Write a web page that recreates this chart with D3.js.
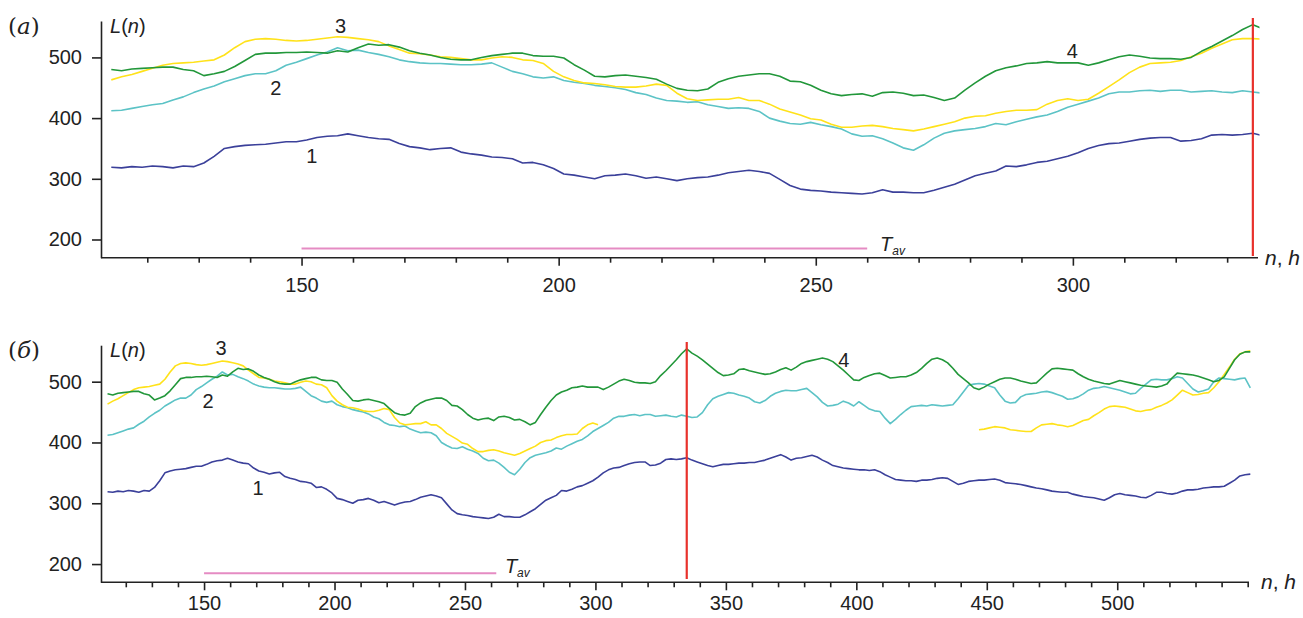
<!DOCTYPE html>
<html><head><meta charset="utf-8">
<script src="https://cdnjs.cloudflare.com/ajax/libs/d3/7.8.5/d3.min.js"></script>
<style>
body{margin:0;background:#fff;}
svg{display:block;font-family:"Liberation Sans",Arial,sans-serif;}
</style>
</head><body>
<svg id="chart" width="1303" height="618"></svg>
<script>
// ---------- DATA ----------
// samples at n = 113, 115, ..., 551 (hours)
const nStart = 113, nStep = 2;
const seriesNames = ["1", "2", "3", "4"];
const series1 = [
 319,318,320,319,321,320,318,321,320,326,
 337,350,353,355,356,357,359,361,361,364,
 368,370,371,374,371,368,366,365,358,353,
 351,348,350,351,344,341,339,336,335,333,
 326,327,323,317,308,306,303,300,305,306,
 308,305,301,303,300,297,300,302,303,306,
 310,312,314,312,309,299,289,283,281,280,
 278,277,276,275,277,282,278,278,277,277,
 281,286,291,298,305,309,313,321,320,323,
 327,329,333,337,343,350,355,358,359,362,
 365,367,368,368,362,363,366,372,373,372,
 373,375,371,368,365,362,360,362,364,364,
 365,366,366,367,367,369,371,374,377,380,
 376,371,374,375,377,379,376,371,367,362,
 360,358,357,356,355,355,354,355,352,347,
 343,339,338,337,337,336,338,338,339,341,
 342,341,336,331,333,336,337,338,338,339,
 340,338,334,333,332,331,329,327,325,324,
 322,320,319,318,318,315,313,311,310,309,
 307,305,309,314,316,314,313,312,310,309,
 313,318,318,316,315,317,320,322,322,323,
 325,326,327,327,328,333,338,345,347,348
];
const series2 = [
 412,413,416,419,422,424,430,435,442,448,
 453,460,465,470,473,473,478,487,492,498,
 504,509,516,511,512,508,505,501,496,493,
 491,490,490,489,488,488,489,491,484,477,
 473,468,466,468,462,459,457,454,452,450,
 447,442,439,433,429,428,426,427,422,419,
 416,417,416,411,400,395,391,390,393,389,
 386,382,374,370,371,366,359,351,347,356,
 367,375,379,381,383,386,391,389,394,398,
 402,405,411,418,423,428,433,440,443,443,
 445,446,444,446,446,443,444,445,443,442,
 445,443,441,442,449,462,472,476,479,482,
 481,478,476,473,467,465,469,476,481,484,
 486,485,485,487,489,482,475,466,460,461,
 463,468,465,460,467,461,455,452,451,440,
 431,438,446,453,459,460,461,460,462,461,
 460,461,462,472,483,494,496,497,496,493,
 490,478,468,465,466,475,479,480,481,483,
 484,482,479,476,471,472,475,480,486,489,
 490,492,490,488,486,483,480,481,489,496,
 503,504,503,503,505,508,506,497,488,483,
 485,488,500,506,505,504,503,505,506,490
];
// series 3, panel (a): n = 113 ... 337
const series3 = [
 463,468,472,477,482,487,490,491,492,494,
 496,504,516,526,530,531,530,528,527,528,
 530,532,534,533,531,529,526,519,513,507,
 506,504,501,500,498,496,496,499,501,500,
 496,495,490,477,468,462,458,457,455,452,
 451,451,453,456,454,441,432,429,430,431,
 431,434,429,429,423,415,410,405,399,397,
 390,385,385,387,388,386,383,381,379,382,
 386,390,394,400,403,404,408,411,413,413,
 414,423,429,432,429,431,441,452,463,475,
 484,490,491,492,495,501,507,515,522,529,
 531,531,530
];
// series 3, panel (б): early part ends at n = 301, late part n = 447 ... 551
const series3CutN = 301;
const series3LateStart = 447;
const series3Late = [
 421,422,424,426,425,424,421,420,419,418,
 418,424,429,430,431,429,428,426,428,432,
 436,438,444,449,455,459,460,459,458,455,
 452,451,453,454,458,461,465,470,478,486,
 482,478,479,481,482,490,500,512,524,537,
 546,549,551
];
const series4 = [
 480,478,481,482,483,484,484,480,478,470,
 473,477,485,495,505,507,507,508,508,509,
 508,507,511,509,516,522,520,521,517,511,
 507,504,500,497,496,496,500,503,505,507,
 507,503,502,502,499,488,479,469,468,470,
 471,469,467,464,456,449,446,445,448,459,
 465,469,471,473,473,469,461,460,454,446,
 440,437,439,440,436,442,443,441,437,438,
 434,429,433,446,458,469,478,483,486,490,
 491,493,491,491,491,487,491,496,501,504,
 502,499,498,498,497,500,510,518,527,536,
 546,554,547,542,536,529,522,515,510,511,
 513,520,521,518,516,514,512,513,516,520,
 523,519,524,530,533,535,537,539,537,533,
 526,519,511,503,502,507,510,513,514,510,
 506,507,508,508,511,515,522,530,537,539,
 536,531,522,512,505,498,490,487,491,496,
 500,504,506,506,504,501,499,497,498,506,
 514,521,522,521,520,519,513,508,504,501,
 499,497,496,499,502,500,498,496,494,493,
 492,491,493,496,506,514,513,512,511,509,
 506,503,500,502,508,522,536,545,549,549
];
const yTickValues = [200, 300, 400, 500];
const xLabelsA = [150, 200, 250, 300];
const xLabelsB = [150, 200, 250, 300, 350, 400, 450, 500];
const tavRangeA = [150, 260], tavRangeB = [150, 262], tavLevel = 185;
const redLineA = 335, redLineB = 335;

// ---------- BUILD ----------
const toPts = (arr, start) => arr.map((v, i) => ({n: start + i * nStep, v}));
const s1 = toPts(series1, nStart), s2 = toPts(series2, nStart),
      s3 = toPts(series3, nStart), s4 = toPts(series4, nStart);
const s3Late = toPts(series3Late, series3LateStart);
const s3b = s3.filter(d => d.n <= series3CutN).concat([{n: series3CutN + 1, v: null}], s3Late);

const colors = {"1": "#3b409a", "2": "#5cc3c6", "3": "#ffe21a", "4": "#22973a"};
const svg = d3.select("#chart");
const ink = "#222";

const panels = [
  {id: "a", tag: "a", xDomain: [111, 336], xRange: [101, 1258], yRange: [257.7, 21],
   xTicks: d3.range(120, 331, 10), xLabels: xLabelsA, nMax: 337, labelY: 20,
   data: {"1": s1, "2": s2, "3": s3, "4": s4},
   red: redLineA, redY: [18, 256], tav: tavRangeA, clipRight: 1259.5,
   labels: [{t: "3", n: 157.6, v: 540}, {t: "2", n: 145, v: 438}, {t: "1", n: 152, v: 326}, {t: "4", n: 299.9, v: 499}],
   tavLabelN: 262.5, tavBase: 251, lab: [8, 34], Ln: [110, 33], nh: [1265, 265]},
  {id: "b", tag: "б", xDomain: [110.5, 550.5], xRange: [101, 1249], yRange: [582.3, 345.2],
   xTicks: d3.range(120, 551, 10), xLabels: xLabelsB, nMax: 551, labelY: 14,
   data: {"1": s1, "2": s2, "3": s3b, "4": s4},
   red: redLineB, redY: [342, 579], tav: tavRangeB, clipRight: 1253,
   labels: [{t: "3", n: 156.5, v: 544}, {t: "2", n: 151.5, v: 457}, {t: "1", n: 170.7, v: 314}, {t: "4", n: 395.2, v: 524}],
   tavLabelN: 265.3, tavBase: 573, lab: [8, 358], Ln: [110, 357], nh: [1261, 589]}
];

panels.forEach(p => {
  const x = d3.scaleLinear().domain(p.xDomain).range(p.xRange);
  const y = d3.scaleLinear().domain([170, 560]).range(p.yRange);
  const g = svg.append("g");

  const clipId = "clip-" + p.id;
  svg.append("clipPath").attr("id", clipId).append("rect")
    .attr("x", p.xRange[0]).attr("y", p.yRange[1] - 10)
    .attr("width", p.clipRight - p.xRange[0]).attr("height", p.yRange[0] - p.yRange[1] + 10);

  const xAxis = d3.axisBottom(x).tickValues(p.xTicks).tickSizeOuter(0).tickSizeInner(5)
    .tickFormat(d => p.xLabels.includes(d) ? d : "");
  const gx = g.append("g").attr("transform", `translate(0,${p.yRange[0]})`).call(xAxis);
  gx.selectAll(".tick line").attr("y2", d => p.xLabels.includes(d) ? 8 : 5);
  gx.select(".domain").attr("d", `M${p.xRange[0]},0H${p.xRange[1]}`);

  const yAxis = d3.axisLeft(y).tickValues(yTickValues).tickSizeOuter(0).tickSizeInner(9).tickPadding(10);
  const gy = g.append("g").attr("transform", `translate(${p.xRange[0]},0)`).call(yAxis);

  [gx, gy].forEach(a => {
    a.selectAll("path.domain, .tick line").attr("stroke", ink).attr("stroke-width", 1.6);
    a.selectAll(".tick text").attr("fill", ink).attr("font-size", 20)
      .attr("font-family", '"Liberation Sans", Arial, sans-serif');
  });
  gx.selectAll(".tick text").attr("dy", "0.71em").attr("y", p.labelY);

  g.append("line").attr("x1", x(p.tav[0])).attr("x2", x(p.tav[1]))
    .attr("y1", y(tavLevel)).attr("y2", y(tavLevel))
    .attr("stroke", "#e58bc3").attr("stroke-width", 2);

  const line = d3.line().defined(d => d.v != null).x(d => x(d.n)).y(d => y(d.v));
  const lg = g.append("g").attr("clip-path", `url(#${clipId})`);
  seriesNames.forEach(k => {
    lg.append("path").datum(p.data[k].filter(d => d.n <= p.nMax))
      .attr("d", line).attr("fill", "none")
      .attr("stroke", colors[k]).attr("stroke-width", 1.6).attr("stroke-linejoin", "round");
  });

  g.append("line").attr("x1", x(p.red)).attr("x2", x(p.red))
    .attr("y1", p.redY[0]).attr("y2", p.redY[1])
    .attr("stroke", "#e8312b").attr("stroke-width", 2.2);

  p.labels.forEach(l => {
    g.append("text").attr("x", x(l.n)).attr("y", y(l.v)).attr("text-anchor", "middle")
      .attr("font-size", 20).attr("fill", ink).text(l.t);
  });

  const tv = g.append("text").attr("x", x(p.tavLabelN)).attr("y", p.tavBase)
    .attr("font-size", 20).attr("fill", ink);
  tv.append("tspan").attr("font-style", "italic").text("T");
  tv.append("tspan").attr("font-style", "italic").attr("font-size", 12).attr("dy", 4).text("av");

  const tg = g.append("text").attr("x", p.lab[0]).attr("y", p.lab[1])
    .attr("font-family", '"DejaVu Serif", "Liberation Serif", serif').attr("font-size", 23).attr("fill", ink);
  tg.append("tspan").text("(");
  tg.append("tspan").attr("font-style", "italic").text(p.tag);
  tg.append("tspan").text(")");

  const ln = g.append("text").attr("x", p.Ln[0]).attr("y", p.Ln[1]).attr("font-size", 20).attr("fill", ink);
  ln.append("tspan").attr("font-style", "italic").text("L");
  ln.append("tspan").text("(");
  ln.append("tspan").attr("font-style", "italic").text("n");
  ln.append("tspan").text(")");

  const nh = g.append("text").attr("x", p.nh[0]).attr("y", p.nh[1]).attr("font-size", 21).attr("fill", ink);
  nh.append("tspan").attr("font-style", "italic").text("n");
  nh.append("tspan").text(", ");
  nh.append("tspan").attr("font-style", "italic").text("h");
});
</script>
</body></html>
